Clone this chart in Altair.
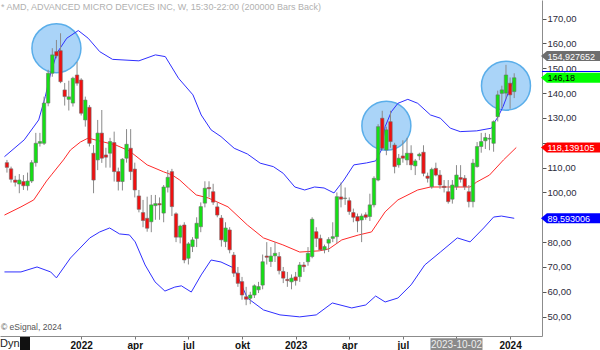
import altair as alt
import numpy as np
import pandas as pd

# ---------------- data ----------------
first_week = "2021-08-30"   # weekly candles, one per week
opens = [112.0, 109.5, 105.0, 103.4, 104.4, 102.7, 104.6, 112.0, 119.8, 119.8,
         136.0, 148.0, 156.7, 157.1, 141.3, 137.5, 136.0, 147.3, 145.3, 129.2,
         134.3, 115.8, 113.1, 123.9, 115.1, 115.8, 120.1, 108.4, 104.4, 113.8,
         117.8, 109.4, 98.6, 91.9, 89.6, 88.2, 94.7, 95.5, 91.7, 102.1,
         108.4, 91.4, 82.0, 86.9, 73.5, 78.2, 81.5, 86.2, 95.7, 102.0,
         100.3, 94.2, 89.7, 80.2, 84.9, 74.8, 67.5, 64.1, 58.0, 57.4,
         58.7, 60.8, 62.7, 74.4, 72.2, 74.5, 74.2, 68.2, 65.0, 64.0,
         66.0, 66.1, 70.8, 72.1, 74.2, 84.2, 81.5, 76.9, 79.6, 81.5,
         82.2, 98.2, 97.6, 96.7, 91.9, 90.3, 88.9, 91.0, 90.3, 95.0,
         105.0, 129.9, 117.1, 128.5, 119.1, 111.1, 114.7, 113.1, 115.8, 110.7,
         114.7, 116.2, 106.6, 102.3, 109.7, 107.0, 102.5, 100.3, 97.3, 102.3,
         106.0, 105.7, 100.3, 96.3, 110.4, 118.5, 120.8, 121.5, 119.8, 130.5,
         139.9, 140.0, 144.0, 140.6]
highs = [113.1, 110.4, 106.7, 107.4, 107.0, 108.0, 113.0, 124.0, 124.0, 138.6,
         149.4, 158.1, 161.4, 164.1, 144.1, 145.0, 146.6, 152.5, 146.0, 138.6,
         135.2, 119.1, 129.2, 133.2, 118.0, 122.0, 124.5, 110.0, 113.8, 125.5,
         125.5, 112.0, 101.0, 97.0, 98.3, 99.0, 99.0, 98.0, 103.0, 109.0,
         109.5, 92.0, 87.0, 88.0, 80.0, 82.0, 90.0, 96.0, 104.5, 104.5,
         103.5, 96.0, 90.9, 88.0, 86.0, 76.0, 70.0, 66.0, 62.0, 60.0,
         63.0, 64.0, 75.0, 80.0, 78.0, 80.0, 76.0, 70.0, 68.0, 67.0,
         68.0, 72.0, 72.0, 78.0, 90.0, 86.0, 83.0, 79.0, 82.0, 88.0,
         100.0, 104.0, 102.0, 98.0, 93.5, 91.5, 91.5, 92.0, 99.5, 106.5,
         127.5, 132.9, 126.5, 132.9, 120.0, 115.5, 121.0, 122.0, 119.0, 113.5,
         116.0, 119.0, 108.0, 110.0, 112.0, 109.0, 105.0, 105.0, 105.0, 111.0,
         111.0, 107.0, 103.0, 113.5, 120.3, 124.0, 124.0, 123.5, 129.0, 141.0,
         143.0, 151.4, 146.3, 148.0]
lows = [108.0, 104.0, 102.4, 99.7, 101.0, 100.8, 103.8, 110.4, 118.5, 119.1,
        134.7, 146.6, 154.0, 144.0, 135.0, 133.0, 134.6, 143.0, 131.0, 126.5,
        118.5, 99.7, 109.0, 111.9, 110.0, 110.0, 104.4, 100.8, 100.8, 112.0,
        105.0, 98.0, 92.0, 86.0, 84.2, 84.0, 89.0, 89.0, 88.0, 100.0,
        90.5, 80.0, 79.5, 71.5, 71.0, 76.0, 78.0, 84.0, 94.0, 98.0,
        95.0, 90.0, 78.2, 78.0, 75.5, 66.0, 62.0, 56.8, 54.6, 55.0,
        57.5, 59.5, 61.0, 71.0, 70.0, 72.0, 67.0, 63.5, 62.0, 61.0,
        62.5, 64.0, 68.0, 70.5, 73.5, 78.0, 76.5, 75.5, 76.0, 80.0,
        79.5, 94.0, 95.0, 91.0, 88.0, 84.0, 80.0, 89.0, 88.5, 94.0,
        104.5, 117.0, 115.0, 118.0, 107.7, 110.0, 112.0, 111.0, 109.0, 107.0,
        113.0, 106.5, 104.0, 101.5, 106.5, 101.5, 100.0, 95.5, 95.5, 101.0,
        104.0, 101.0, 94.0, 94.0, 110.0, 116.0, 117.5, 117.0, 116.4, 128.6,
        134.0, 137.5, 133.7, 138.0]
closes = [110.1, 105.3, 104.1, 105.0, 102.7, 104.6, 112.0, 119.8, 120.5, 136.0,
          148.0, 155.4, 155.0, 144.6, 138.6, 138.5, 146.0, 144.0, 131.9, 137.2,
          119.8, 105.0, 123.9, 113.8, 114.2, 120.5, 108.4, 104.4, 113.4, 119.4,
          108.4, 101.0, 93.2, 88.7, 85.6, 95.0, 95.5, 95.0, 102.2, 106.1,
          94.3, 82.0, 86.5, 72.8, 79.3, 80.9, 87.6, 94.3, 101.7, 101.5,
          96.1, 90.9, 80.9, 85.7, 76.9, 67.5, 63.4, 58.7, 57.0, 58.7,
          62.4, 62.1, 72.1, 73.9, 74.4, 75.5, 68.5, 65.5, 64.5, 65.5,
          64.5, 70.8, 70.1, 75.5, 89.2, 81.5, 76.9, 78.2, 81.1, 82.2,
          98.3, 97.3, 97.7, 92.3, 90.0, 88.5, 90.5, 90.0, 95.0, 105.7,
          126.5, 117.8, 125.2, 120.5, 110.4, 113.8, 113.8, 115.8, 111.1, 112.7,
          115.4, 107.7, 105.7, 109.3, 107.0, 103.0, 102.0, 96.3, 103.0, 107.0,
          105.3, 102.3, 96.3, 111.8, 118.5, 120.5, 122.1, 121.8, 128.5, 139.3,
          141.3, 147.3, 139.3, 146.18]

# indicator lines: weeks relative to 2022-01-03, and price values
band_base = "2022-01-03"
upper_weeks = [-18.6, -13.8, -10.3, -8.7, -7.5, -5.9, -3.5, -0.7, 1.7, 4.5, 7.6, 14.0,
               18.0, 20.4, 23.6, 27.1, 29.1, 31.5, 33.9, 37.1, 40.3, 43.4, 46.6, 49.0,
               51.8, 54.2, 56.6, 58.9, 61.3, 63.7, 66.1, 69.2, 71.4, 72.8, 73.7, 75.2,
               76.8, 79.2, 81.6, 84.7, 87.1, 89.5, 91.9, 95.9, 99.5, 100.3, 101.1, 102.3,
               103.5, 104.9]
upper_vals = [114.4, 121.2, 129.2, 138.6, 147.3, 156.1, 162.1, 165.2, 162.1, 156.7, 153.6, 153.0,
              155.4, 154.7, 146.0, 139.3, 131.2, 125.2, 122.5, 117.8, 115.5, 111.8, 110.4, 107.7,
              102.2, 101.0, 102.2, 101.8, 99.8, 105.0, 111.1, 111.9, 112.7, 117.1, 126.5, 132.5,
              135.9, 137.5, 135.9, 131.2, 129.9, 125.9, 124.5, 124.8, 125.9, 128.5, 130.5, 134.6,
              139.9, 145.3]
mid_weeks = [-18.6, -14.6, -11.5, -8.4, -7.2, -4.3, -2.6, -0.2, 1.7, 4.5, 8.4, 11.7, 16.0,
             20.0, 22.0, 23.9, 26.0, 27.9, 30.8, 35.6, 40.3, 44.2, 48.9, 53.0, 57.8, 60.1,
             63.2, 67.3, 70.4, 73.7, 76.8, 81.6, 84.7, 88.8, 94.3, 95.9, 99.0, 102.4, 105.5]
mid_vals = [90.9, 94.2, 97.0, 104.6, 107.1, 113.1, 117.1, 120.3, 121.9, 120.7, 119.1, 116.7, 111.1,
            108.3, 107.1, 105.0, 101.8, 99.0, 97.8, 94.2, 86.9, 81.7, 78.9, 76.0, 76.5, 77.3,
            80.9, 82.9, 84.1, 92.2, 97.0, 101.0, 102.2, 102.2, 102.2, 104.2, 107.0, 113.1, 118.1]
lower_weeks = [-18.6, -14.6, -10.7, -7.4, -6.0, -2.6, 2.1, 4.5, 6.9, 9.3, 11.7, 13.1, 15.5,
               17.9, 20.3, 22.7, 24.3, 26.7, 29.1, 31.5, 33.9, 37.0, 40.3, 44.2, 48.2, 53.0,
               57.0, 60.9, 65.6, 69.0, 71.4, 73.7, 76.8, 80.0, 83.3, 87.1, 91.2, 94.3, 97.6,
               100.0, 101.9, 105.0]
lower_vals = [68.0, 68.0, 70.0, 68.0, 65.6, 73.6, 81.7, 84.1, 85.7, 83.3, 82.9, 80.1, 70.8,
              64.0, 60.3, 61.9, 62.4, 59.9, 66.8, 72.8, 72.0, 69.6, 57.5, 52.7, 50.7, 49.9,
              50.7, 55.5, 53.5, 54.7, 58.3, 55.9, 57.5, 62.8, 70.8, 76.0, 81.7, 80.1, 85.7,
              90.1, 90.5, 89.6]

circle_dates = ["2021-11-22", "2023-06-05", "2023-12-25"]
circle_prices = [158.1, 126.9, 143.0]

tag_values = [154.927652, 146.18, 118.139105, 89.593006]
tag_labels = ["154,927652", "146,18", "118,139105", "89,593006"]
tag_fill = ["#6e6e6e", "#00ff00", "#ff0000", "#0000ff"]
tag_text_color = ["#ffffff", "#000000", "#ffffff", "#ffffff"]

axis_ticks = [(2022, 1, 3), (2022, 4, 4), (2022, 7, 4), (2022, 10, 3), (2023, 1, 2),
              (2023, 4, 3), (2023, 7, 3), (2023, 10, 2), (2024, 1, 1)]
cursor_date = "2023-10-02"
cursor_label = "2023-10-02"

title_text = "* AMD, ADVANCED MICRO DEVICES INC, W, 15:30-22:00 (200000 Bars Back)"
credit_text = "\u00a9 eSignal, 2024"

# ---------------- frames ----------------
dates = pd.date_range(first_week, periods=len(opens), freq="7D")
candles = pd.DataFrame({"date": dates, "open": opens, "high": highs,
                        "low": lows, "close": closes})


def band_frame(weeks, vals):
    d = pd.Timestamp(band_base) + pd.to_timedelta(np.array(weeks) * 7, unit="D")
    return pd.DataFrame({"date": d, "v": vals})


upper_df = band_frame(upper_weeks, upper_vals)
mid_df = band_frame(mid_weeks, mid_vals)
lower_df = band_frame(lower_weeks, lower_vals)
circles = pd.DataFrame({"date": pd.to_datetime(circle_dates), "v": circle_prices})
tags = pd.DataFrame({"v": tag_values, "label": tag_labels, "fill": tag_fill,
                     "tc": tag_text_color})
cursor = pd.DataFrame({"date": pd.to_datetime([cursor_date]), "label": [cursor_label]})
one = pd.DataFrame({"a": [0]})

# ---------------- scales / axes ----------------
x_scale = alt.Scale(domain=[alt.DateTime(year=2021, month=8, date=26, hours=17),
                            alt.DateTime(year=2024, month=2, date=15, hours=16)])
y_scale = alt.Scale(domain=[42.2, 177.5], nice=False, zero=False)

x_axis = alt.Axis(
    values=[alt.DateTime(year=y, month=m, date=d) for y, m, d in axis_ticks],
    labelExpr="month(datum.value) == 0 ? timeFormat(datum.value, '%Y') : "
              "month(datum.value) == 3 ? 'apr' : month(datum.value) == 6 ? 'jul' : "
              "year(datum.value) == 2023 ? '' : 'okt'",
    title=None, grid=False, tickSize=3, tickColor="#777777", domainColor="#8c8c8c",
    labelFont="Liberation Sans", labelFontSize=10, labelFontWeight="bold",
    labelColor="#111111", labelPadding=1, labelFlush=False, labelOverlap=False)
# labels at 90 and 120 sit underneath the value tags, so they stay blank
y_axis = alt.Axis(
    orient="right", values=list(range(50, 171, 10)),
    labelExpr="(datum.value == 90 || datum.value == 120) ? '' : "
              "replace(format(datum.value, '.2f'), '.', ',')",
    title=None, grid=False, tickSize=4, tickColor="#555555", domainColor="#8c8c8c",
    labelFont="Liberation Sans", labelFontSize=9.5, labelColor="#2c2c3c",
    labelPadding=1, labelFlush=False, labelOverlap=False)

X = alt.X("date:T", scale=x_scale, axis=x_axis)


def Y(field):
    return alt.Y(field, type="quantitative", scale=y_scale, axis=y_axis)


# ---------------- layers ----------------
circ = alt.Chart(circles).mark_point(
    shape="circle", size=49 * 49, filled=True, fill="#aad4f8", stroke="#5aaeea",
    strokeWidth=1.5, opacity=1).encode(x=X, y=Y("v"))


def line_layer(df, color):
    return alt.Chart(df).mark_line(color=color, strokeWidth=1, clip=True).encode(
        x=X, y=Y("v"))


upper = line_layer(upper_df, "#2f2fff")
mid = line_layer(mid_df, "#ff2a2a")
lower = line_layer(lower_df, "#2f2fff")

wicks = alt.Chart(candles).mark_rule(color="#8a8a8a", strokeWidth=1, clip=True).encode(
    x=X, y=Y("low"), y2="high")
bodies = alt.Chart(candles).mark_bar(size=3.4, stroke="#6e6e6e", strokeWidth=0.6,
                                     clip=True).encode(
    x=X, y=Y("open"), y2="close",
    fill=alt.condition("datum.close >= datum.open", alt.value("#14e014"),
                       alt.value("#f01010")))

tag_shape = "M-1,0L-0.8,-0.17L1,-0.17L1,0.17L-0.8,0.17Z"
tag_boxes = alt.Chart(tags).mark_point(shape=tag_shape, size=59 * 59, filled=True,
                                       opacity=1, strokeWidth=0).encode(
    x=alt.value(570.5), y=Y("v"), fill=alt.Fill("fill:N", scale=None))
tag_texts = alt.Chart(tags).mark_text(align="left", baseline="middle",
                                      font="Liberation Sans", fontSize=9, dy=0.5).encode(
    x=alt.value(547.5), y=Y("v"), text="label:N", color=alt.Color("tc:N", scale=None))
tag_rule = alt.Chart(one).mark_rule(color="#0000ff", strokeWidth=1).encode(
    x=alt.value(542), x2=alt.value(600), y=alt.datum(148.7, type="quantitative",
                                                      scale=y_scale, axis=y_axis))

cursor_box = alt.Chart(cursor).mark_point(
    shape="M-1,-0.24L1,-0.24L1,0.24L-1,0.24Z", size=52 * 52, filled=True,
    fill="#8a8a8a", opacity=1, strokeWidth=0).encode(x=X, y=alt.value(344.5))
cursor_text = alt.Chart(cursor).mark_text(
    font="Liberation Sans", fontSize=10, color="#eeeeee", baseline="middle").encode(
    x=X, y=alt.value(344.5), text="label:N")

title = alt.Chart(one).mark_text(
    text=title_text, align="left", baseline="middle", font="Liberation Sans",
    fontSize=9, color="#b0b0b0").encode(x=alt.value(1), y=alt.value(7))
credit = alt.Chart(one).mark_text(
    text=credit_text, align="left", baseline="middle", font="Liberation Sans",
    fontSize=8.5, color="#555555").encode(x=alt.value(1), y=alt.value(327))
dyn = alt.Chart(one).mark_text(
    text="Dyn", align="left", baseline="middle", font="Liberation Sans",
    fontSize=11, color="#222222").encode(x=alt.value(0), y=alt.value(343.5))
lock = alt.Chart(one).mark_rect(color="#111111").encode(
    x=alt.value(20), x2=alt.value(30), y=alt.value(337), y2=alt.value(350))

chart = alt.layer(
    circ, mid, upper, lower, wicks, bodies, tag_rule, tag_boxes, tag_texts,
    cursor_box, cursor_text, title, credit, dyn, lock
).properties(
    width=542, height=336,
    padding={"left": 0, "top": 0, "right": 58, "bottom": 14},
    autosize=alt.AutoSizeParams(type="none"),
    background="#ffffff",
).configure_view(stroke=None)

chart.save("out.html", embed_options={"renderer": "svg", "actions": False})
